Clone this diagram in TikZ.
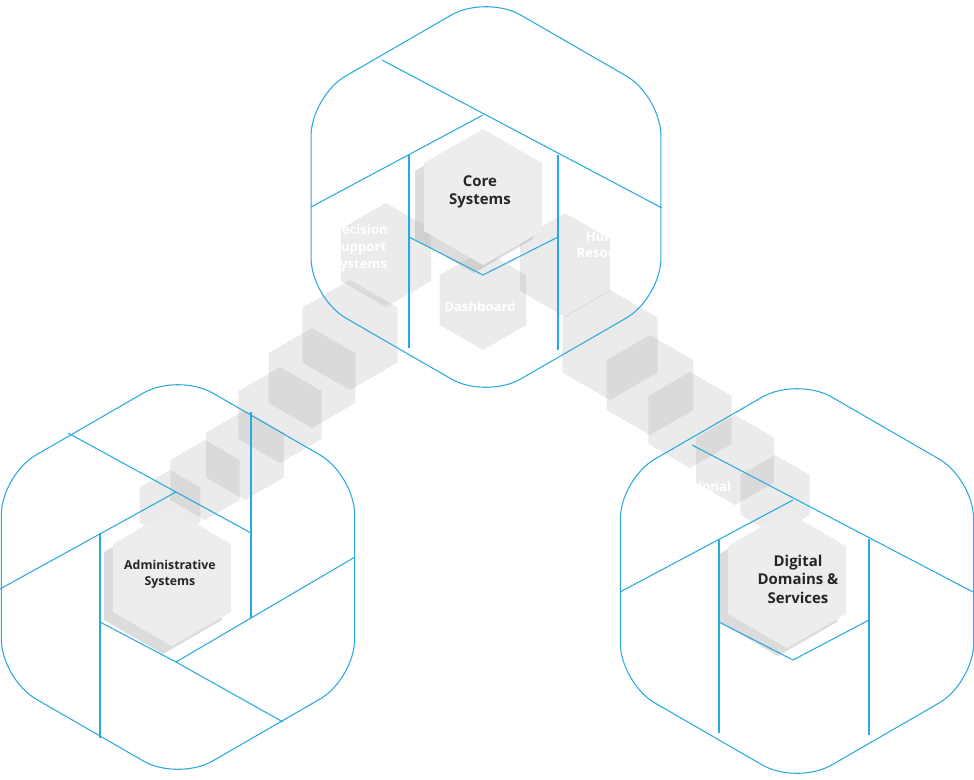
\documentclass[tikz,border=0pt]{standalone}
\usepackage{fontspec}
\setmainfont{Open Sans}
\usepackage{tikz}
\definecolor{hexblue}{HTML}{29A9E0}
\definecolor{hexgrey}{HTML}{EEEDEE}
\tikzset{
  outline/.style={draw=hexblue, line width=0.6pt},
  frame/.style={outline, rounded corners=0.8cm},
  block/.style={fill=gray, opacity=0.16},
  centre/.style={fill=hexgrey},
  shade/.style={fill=gray!60, opacity=0.45},
  title/.style={font=\bfseries\fontsize{8.5}{10.5}\selectfont, align=center, text=black!85},
  ghost/.style={font=\bfseries\fontsize{7.5}{9.5}\selectfont, align=center, text=white},
}
% pointy-top hexagon around the current shift
\newcommand{\hexshape}[2][]{%
  \path[#1] (90:#2) -- (30:#2) -- (-30:#2) -- (-90:#2) -- (-150:#2) -- (150:#2) -- cycle;}

\begin{document}
\begin{tikzpicture}[x=0.02cm, y=-0.02cm]
  \useasboundingbox (0,0) rectangle (974,779);
  % grey stacks
  \foreach \cx/\cy/\r in {350/335/55, 312/378/50, 280/415/48, 245/455/45, 205/480/40, 170/505/35,
                         610/345/55, 650/385/50, 690/420/48, 735/460/45, 775/495/40,
                         386/255/52, 565/265/52, 483/300/50}
    \begin{scope}[shift={(\cx,\cy)}]
      \hexshape[block]{\r}
    \end{scope};
  % centre hexagons
  \foreach \cx/\cy in {483/197, 172/578, 787/580}{
    \begin{scope}[shift={(\cx-9,\cy+8)}]
      \hexshape[shade]{68}
    \end{scope}
    \begin{scope}[shift={(\cx,\cy)}]
      \hexshape[centre]{68}
    \end{scope}
  }
  % top
  \begin{scope}[shift={(486,197)}]
    \hexshape[frame]{202}
    \draw[outline] (-175,10) -- (-3,-82);
    \draw[outline] (-104,-137) -- (176,11);
    \draw[outline] (-77,-42) -- (-77,151);
    \draw[outline] (72,-42) -- (72,153);
    \draw[outline] (-77,40) -- (-3,78) -- (72,40);
  \end{scope}
  % left
  \begin{scope}[shift={(178,577)}]
    \hexshape[frame]{204}
    \draw[outline] (-178,12) -- (-2,-85);
    \draw[outline] (-110,-144) -- (73,-44);
    \draw[outline] (73,-165) -- (73,41);
    \draw[outline] (-78,-44) -- (-78,161);
    \draw[outline] (-78,45) -- (-2,85) -- (177,-20);
    \draw[outline] (-2,85) -- (105,145);
  \end{scope}
  % right
  \begin{scope}[shift={(797,581)}]
    \hexshape[frame]{204}
    \draw[outline] (-177,11) -- (-4,-81);
    \draw[outline] (-105,-136) -- (176,11);
    \draw[outline] (-78,-41) -- (-78,152);
    \draw[outline] (72,-42) -- (72,154);
    \draw[outline] (-78,41) -- (-4,79) -- (72,39);
  \end{scope}
  \node[title] (core) at (480,192) {Core\\Systems};
  \node[title, font=\bfseries\fontsize{7}{9}\selectfont] (admin) at (170,574) {Administrative\\Systems};
  \node[title] (digital) at (798,579) {Digital\\Domains \&\\Services};
  \node[ghost] (decision) at (360,248) {Decision\\Support\\Systems};
  \node[ghost] (dashboard) at (480,307) {Dashboard};
  \node[ghost] (human) at (610,245) {Human\\Resources};
  \node[ghost] (institutional) at (690,503) {Institutional\\Support\\Services};
\end{tikzpicture}
\end{document}
